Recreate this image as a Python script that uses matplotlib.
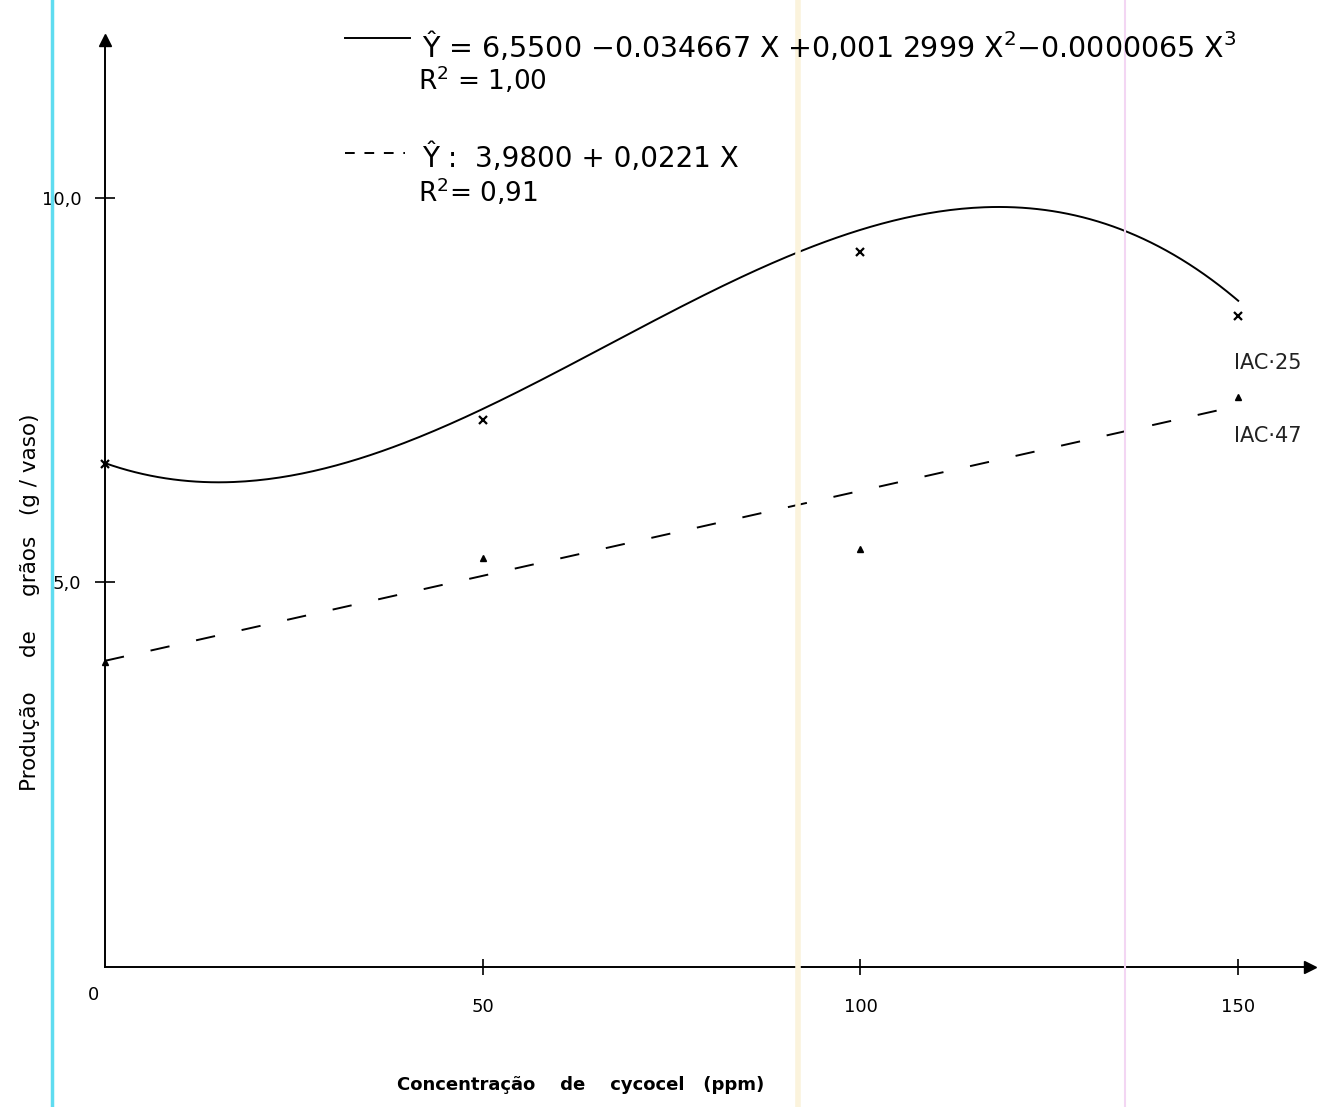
import matplotlib

matplotlib.use("Agg")
import matplotlib.pyplot as plt
import numpy as np
from matplotlib.lines import Line2D

# doses of cycocel (ppm)
DOSES = [0, 50, 100, 150]
IAC25_OBS = [6.54, 7.11, 9.30, 8.46]
IAC47_OBS = [3.97, 5.32, 5.43, 7.41]
# regression coefficients printed on the chart
IAC25_COEF = [6.5500, -0.034667, 0.0012999, -0.0000065]
IAC47_COEF = [3.9800, 0.0221]

X_TICKS = [50, 100, 150]
Y_TICKS = [5.0, 10.0]
Y_TICK_LABELS = ["5,0", "10,0"]

fig = plt.figure(figsize=(13.34, 11.07), dpi=100)
ax = fig.add_axes([105 / 1334, 140 / 1107, 1205 / 1334, 927 / 1107])

xs = np.linspace(0, 150, 300)
y25 = sum(c * xs ** i for i, c in enumerate(IAC25_COEF))
y47 = sum(c * xs ** i for i, c in enumerate(IAC47_COEF))

lw = 1.4
ax.plot(xs, y25, color="black", lw=lw)
ax.plot(xs, y47, color="black", lw=lw, linestyle=(0, (10, 14)))
ax.plot(DOSES, IAC25_OBS, linestyle="none", marker="x", color="black",
        markersize=6, mew=1.6, clip_on=False)
ax.plot(DOSES, IAC47_OBS, linestyle="none", marker="^", color="black",
        markersize=5, clip_on=False)

ax.set_xlim(0, 159.5)
ax.set_ylim(0, 12.05)
for s in ["top", "right"]:
    ax.spines[s].set_visible(False)
for s in ["left", "bottom"]:
    ax.spines[s].set_linewidth(1.4)

# arrow heads on the axes
ax.plot(1, 0, ">k", markersize=9, transform=ax.transAxes, clip_on=False)
ax.plot(0, 1, "^k", markersize=9, transform=ax.transAxes, clip_on=False)

ax.set_xticks(X_TICKS)
ax.set_xticklabels([str(t) for t in X_TICKS], fontsize=13)
ax.set_yticks(Y_TICKS)
ax.set_yticklabels(Y_TICK_LABELS, fontsize=13)
ax.tick_params(axis="x", direction="inout", length=12, width=1.2, pad=16)
ax.tick_params(axis="y", direction="inout", length=14, width=1.2, pad=10)
ax.text(-0.8, -0.36, "0", ha="right", va="center", fontsize=13)

ax.set_ylabel("Produção     de     grãos   (g / vaso)", fontsize=15.5)
ax.yaxis.set_label_coords(-0.054, 0.394)
ax.set_xlabel("Concentração    de    cycocel   (ppm)", fontsize=13,
              fontweight="bold")
ax.xaxis.set_label_coords(0.395, -0.118)

# regression equations
fig.add_artist(Line2D([345 / 1334, 410 / 1334], [1 - 38 / 1107] * 2,
                      color="black", lw=1.4))
fig.text(422 / 1334, 1 - 46 / 1107,
         "Ŷ = 6,5500 −0.034667 X +0,001 2999 X$^2$−0.0000065 X$^3$",
         fontsize=20.5, va="center", ha="left")
fig.text(418 / 1334, 1 - 80 / 1107, "R$^2$ = 1,00", fontsize=19,
         va="center", ha="left")
fig.add_artist(Line2D([345 / 1334, 405 / 1334], [1 - 153 / 1107] * 2,
                      color="black", lw=1.4, linestyle=(0, (5, 5))))
fig.text(422 / 1334, 1 - 158 / 1107, "Ŷ :  3,9800 + 0,0221 X",
         fontsize=20, va="center", ha="left")
fig.text(418 / 1334, 1 - 192 / 1107, "R$^2$= 0,91", fontsize=19,
         va="center", ha="left")

# cultivar labels
ax.text(149.5, 7.85, "IAC·25", fontsize=15, ha="left", va="center",
        color="#222222")
ax.text(149.5, 6.9, "IAC·47", fontsize=15, ha="left", va="center",
        color="#222222")

# scan artefacts
fig.add_artist(Line2D([52 / 1334] * 2, [0, 1], color="#5fdcf0", lw=2.5))
fig.add_artist(Line2D([798 / 1334] * 2, [0, 1], color="#fbf3dc", lw=4))
fig.add_artist(Line2D([1125 / 1334] * 2, [0, 1], color="#f3d6f3", lw=1.5))

fig.savefig("out.png", dpi=100)
